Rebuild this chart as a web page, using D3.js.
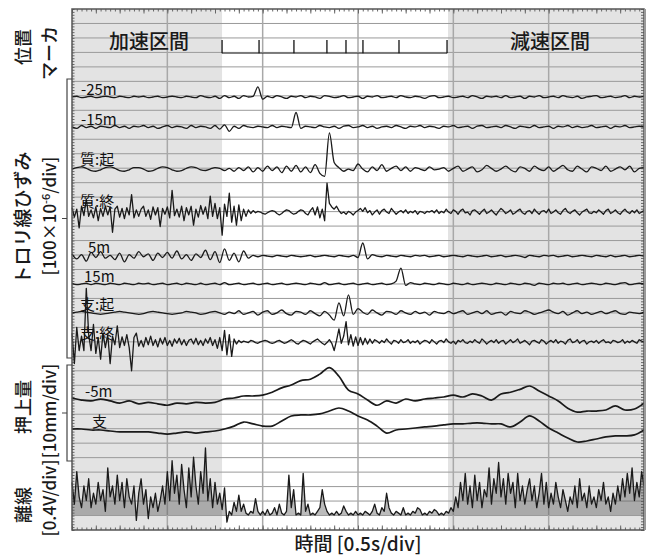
<!DOCTYPE html>
<html>
<head>
<meta charset="utf-8">
<script src="https://d3js.org/d3.v7.min.js"></script>
<style>
  body { margin: 0; background: #fff; }
  text { font-family: "Noto Sans CJK JP", "Noto Sans", sans-serif; fill: #1a1a1a; font-weight: 500; }
  text.lbl { font-weight: normal; fill: #111; }
</style>
</head>
<body>
<svg class="chart" width="652" height="555"></svg>
<script>
// time span of the record [s], 0.5 s/div
const timeSpan = [0, 3];
const accelEnd = 0.787;     // end of accelerating section
const decelStart = 1.972;   // start of decelerating section
const markerTimes = [0.787, 0.981, 1.164, 1.337, 1.437, 1.526, 1.715, 1.967];

// strain traces [x10^-6], sampled every 0.025 s
const strainM25 = [0,5,-5,0,5,-5,0,5,0,-5,
  5,0,-5,5,0,5,-5,0,5,-5, 0,5,0,-5,5,0,-5,10,0,-5,
  5,-10,10,-5,5,-10,10,0,5,70, -15,5,-5,10,0,-10,5,0,10,-5,
  5,0,-10,10,5,-5,0,10,-5,0, 5,-10,5,0,10,-5,0,5,-5,10,
  0,-5,5,0,-10,5,10,-5,0,5, -5,0,5,-5,10,0,-10,5,0,5,
  -5,10,-5,0,5,-10,5,0,10,-5, 0,5,-5,10,0,-5,5,-10,0,5,
  10,-5,0,5,-5,0,10,-5,5,0, 5];
const strainM15 = [0,-10,10,-5,5,-10,5,0,-5,10,
  -5,5,-10,5,0,10,-5,5,-10,0, 10,-5,5,0,-10,10,-5,5,0,-10,
  10,-15,15,-30,5,-10,10,0,-5,5, 0,-5,10,-5,5,0,-5,100,-10,5,
  0,-5,10,0,-5,5,-10,5,10,-5, 0,10,-5,5,-10,0,5,-5,10,0,
  -10,5,0,10,-5,5,0,-10,5,0, 10,-5,0,5,-10,5,10,-5,0,5,
  -5,10,0,-10,5,0,-5,10,-5,0, 5,-10,5,0,10,-5,5,-5,0,10,
  -5,0,5,-10,5,0,10,-5,0,5, 0];
const strainShitsuKi = [0,10,15,5,-10,-15,-5,10,15,5,
  -10,-15,-5,10,10,0,-15,-10,5,15, 10,-5,-15,-10,5,15,10,-5,-10,0,
  10,5,-10,5,-15,10,-10,15,-20,10, -15,20,-10,15,-25,20,-15,25,-20,15,
  -25,30,-30,-50,250,45,10,-15,0,-10, 35,0,-20,15,-10,30,-15,5,20,-10,
  15,-15,10,0,-10,15,-5,0,10,-15, 5,20,-15,0,15,-20,-5,25,5,-15,
  0,20,-5,-20,15,5,-15,20,0,-10, 15,-15,5,25,-5,-15,20,0,-20,15,
  5,-10,20,-15,0,15,-5,20,-20,5, 10];
const strain5m = [15,-20,10,-35,25,-10,30,-15,5,-25,
  20,-40,10,-15,30,-5,15,-30,20,-10, 25,-15,35,-20,10,-30,15,-10,40,-25,
  30,-45,50,-30,20,-40,35,-15,5,-5, 5,0,-5,5,0,-5,5,0,-5,0,
  5,-5,0,5,0,-5,5,0,-5,5, -10,90,-20,10,0,-5,5,0,-5,5,
  0,-5,5,0,5,-5,0,5,-5,0, 5,0,-5,5,0,-5,0,5,-5,0,
  5,-5,0,5,0,-10,5,0,-5,5, 0,5,-5,0,5,-5,0,5,0,-5,
  5,0,-5,5,-5,0,5,-5,0,5, 0];
const strain15m = [5,-5,0,5,-5,5,0,-5,5,0,
  -5,5,0,-5,5,0,5,-5,0,5, -5,0,5,-5,5,0,-5,5,-5,0,
  5,-5,10,-5,0,5,-5,0,5,-5, 0,5,-5,0,5,-5,0,5,0,-5,
  5,0,-5,10,-5,0,5,-5,0,5, -5,0,5,-5,0,5,-5,0,20,110,
  -10,10,0,-5,5,0,-5,5,0,-5, 5,0,-5,5,-5,0,5,0,-5,5,
  0,-5,5,0,-5,5,0,-10,5,0, -5,5,0,5,-5,0,5,-5,0,5,
  0,-5,5,0,-5,5,10,-5,0,5, 0];
const strainShiKi = [0,5,10,5,0,-5,-10,-5,0,5,
  10,5,0,-5,-10,-5,5,10,5,0, -5,-10,-5,0,10,5,0,-10,-5,5,
  10,0,-10,5,-5,15,-10,0,10,-15, 5,15,-10,0,20,-5,-15,10,5,-10,
  15,-5,-20,10,-15,-50,70,-20,125,-10, 30,5,-10,20,0,-15,10,5,-10,15,
  0,-10,10,-5,5,-15,10,0,-5,10, -5,5,15,-10,0,10,-5,15,-10,0,
  5,-15,10,0,-5,15,5,-10,0,10, 20,5,-5,10,-15,0,15,-5,5,-10,
  0,10,-5,5,15,-5,-10,5,0,-5, 5];

// strain traces [x10^-6], sampled every 0.0125 s
const strainShitsuShu = [30,-35,20,-110,40,-25,90,-30,15,-40,
  35,-60,25,-30,40,-20,35,-140,20,40, -35,25,-45,30,-20,120,-40,15,-30,20,
  40,-30,15,-50,35,-20,30,-100,25,-15, 35,-40,150,-25,20,-35,40,-60,30,-20,
  40,-90,20,-35,45,-15,35,-45,110,-30, 60,-45,30,-160,55,-30,130,-70,40,-90,
  50,-60,20,-30,15,-10,10,-5,5,0, -10,-15,-5,5,10,5,-10,-20,-10,5,
  15,10,-5,-15,-10,5,15,10,-10,-20, 10,30,-20,35,-40,20,-60,200,60,35,
  20,40,10,-10,0,-15,5,-5,-20,0, 10,25,5,30,-5,10,-20,0,15,-15,
  10,20,0,-10,25,5,-15,0,10,-5, 15,-10,5,-5,10,-15,5,0,-10,5,
  0,10,-5,15,-10,5,-5,20,0,-10, 15,5,-15,10,20,-5,0,-20,10,15,
  0,-15,5,20,-10,0,15,-5,-20,5, 25,10,-10,0,15,-15,-5,10,20,-5,
  -15,5,10,-10,20,0,-15,5,10,-5, 20,-10,0,15,-5,-15,10,25,0,-10,
  5,15,-5,-20,0,10,20,-5,-10,5, -5,15,0,-15,10,20,-10,0,15,-5,
  -15,5,20,0,-10,10,-5,15,-10,0, 10];
const strainShiShu = [60,-150,100,-60,40,-60,370,50,-60,120,
  -80,30,-120,60,-40,50,-150,40,-20,110, -40,35,-25,50,-40,-200,30,60,-30,10,
  -35,30,-20,40,-25,15,-35,25,-15,30, -25,10,-30,20,-10,25,-20,15,-25,10,
  20,-15,25,-20,10,-25,20,-10,30,-25, 15,-45,30,-60,80,-90,50,-100,20,-15,
  10,-5,5,0,-5,10,5,-5,-10,0, 5,10,5,-5,-10,-5,5,10,0,-10,
  -5,5,15,5,-10,-15,0,10,5,-5, -15,0,10,20,5,-10,-20,-5,15,-10,
  -60,10,90,-10,40,140,-20,50,-30,35, -25,30,-20,25,-15,20,-10,15,5,-10,
  10,-5,20,0,-15,10,5,-10,15,-5, 0,15,-10,5,-5,10,-15,0,10,5,
  -10,15,0,-15,5,10,-5,20,0,-10, 5,-15,10,0,15,-5,-10,5,-5,15,
  0,-10,20,5,-15,0,10,-5,15,-10, 5,10,-15,0,15,-5,5,20,-10,0,
  10,-5,-20,5,10,0,-10,15,5,-15, 0,10,-5,15,-10,5,0,-15,10,20,
  -5,0,15,-10,5,10,-15,0,5,-5, 10,-10,5,15,-5,0,-10,10,5,-5,
  0,15,-10,5,-5,10,0,-10,15,5, 0];

// uplift [mm], sampled every 0.05 s
const uplift5m = [0,-1.4,-2,-0.7,-2,-3.5,-2,-4,-3,-4,
  -5,-3.5,-4,-3,-3.5,-3,-0.7,0,1.4,1.4, 2,4,7,9,12,13,16.5,21,15,5.5,
  2.8,-1.4,-5,-2,-3.5,-0.7,-2,-0.7,0,0.7, 2,0.7,2.8,1.4,-1.4,2.8,4,6,8.3,4.8,
  1.4,-2,-7,-9.7,-9,-9,-8.3,-5.5,-8.3,-7.6, -3.5];
const upliftShi = [0,0,-0.7,-0.7,-1.4,-2,-2,-2,-2,-2.8,
  -3.5,-2.8,-2,-2.8,-2,-1.4,0,2,4.8,3.5, 2,2,5.5,9,9.7,9.7,10.4,12.4,14.5,12.4,
  9,6.2,2,-2.8,-0.7,0,0.7,1.4,2,2.8, 3.5,3.5,4.1,4.1,3.5,3.5,1.4,4.8,9,5.5,
  0.7,-2.8,-6.2,-9,-8.3,-6.9,-5.5,-4.8,-4.8,-4.1, -0.7];

// contact loss [V], sampled every 0.0125 s
const contactLoss = [0.9,0.3,1.2,0.5,0.2,0.8,0.4,1.0,0.2,0.6,
  0.3,0.9,0.4,0.7,0.1,1.3,0.5,0.8,0.3,1.1, 0.4,0.9,0.2,1.0,0.5,0.3,0.8,-0.15,0.6,1.0,
  0.3,0.7,-0.1,0.5,0.2,0.6,0.1,0.4,0.8,0.3, 1.2,0.4,1.5,0.6,1.1,0.3,1.4,0.7,0.2,1.3,
  0.5,1.6,0.8,0.3,1.2,0.6,1.85,0.4,1.0,0.2, 0.9,0.3,0.6,0.15,0.75,-0.2,0.1,0,0.35,0.1,
  0.55,0.1,0.3,0.05,0,0.1,0.05,0.45,0.1,0, 0.1,0,0.15,0,0.05,0.2,0,0.3,0.05,0,
  0.1,1.1,0.2,0.7,0,0.05,0,1.15,0.1,0.3, 0,0.05,0,0.1,0.2,0.7,0.3,0.1,0,0.05,
  0,0.1,0,0.05,0.25,0.1,0,0.05,0,0.1, 0,0.05,0,0.1,0.05,0,0.1,0.3,0.05,0,
  0.2,0.1,0.6,0.2,0.05,0,0.1,0.05,0,0.2, 0,0.05,0,0.1,0.05,0.2,0.15,0,0.05,0,
  0.1,0.05,0.15,0.1,0,0.05,0,0.1,0.05,0.2, 0.1,0.5,0.2,0.9,0.4,1.15,0.3,0.8,0.2,1.1,
  0.4,0.9,0.2,0.7,0.5,1.3,0.3,1.0,0.6,1.45, 0.5,1.0,0.3,1.15,0.6,0.9,0.2,1.15,0.4,0.8,
  0.3,0.7,1.0,0.4,0.8,0.2,0.6,1.15,0.3,0.9, 0.2,0.6,0.3,0.9,0.5,0.2,0.7,0.4,0.1,0.5,
  0.3,0.8,0.2,1.0,0.4,0.6,0.2,0.8,0.3,0.5, 0.2,0.7,0.4,0.9,0.3,0.5,0.1,0.6,0.3,0.8,
  0.4,1.0,0.5,1.15,0.6,1.3,0.4,0.9,0.5,1.2, 0.8];

// traces: zero line (div from top), units per div, label
const traces = [
  {name: '-25m', values: strainM25, zero: 6.08, perDiv: 100, lx: 81, ly: 95, curve: 'mono'},
  {name: '-15m', values: strainM15, zero: 8.15, perDiv: 100, lx: 81, ly: 125, curve: 'mono'},
  {name: '質:起', values: strainShitsuKi, zero: 11.06, perDiv: 100, lx: 80, ly: 165, curve: 'mono'},
  {name: '質:終', values: strainShitsuShu, zero: 14.03, perDiv: 100, lx: 80, ly: 207},
  {name: '5m', values: strain5m, zero: 17.07, perDiv: 100, lx: 88, ly: 253, curve: 'mono'},
  {name: '15m', values: strain15m, zero: 19.0, perDiv: 100, lx: 84, ly: 282, curve: 'mono'},
  {name: '支:起', values: strainShiKi, zero: 21.0, perDiv: 100, lx: 80, ly: 310, curve: 'mono'},
  {name: '支:終', values: strainShiShu, zero: 23.0, perDiv: 100, lx: 80, ly: 339},
  {name: '-5m', values: uplift5m, zero: 26.88, perDiv: 10, lx: 85, ly: 397, curve: 'smooth'},
  {name: '支', values: upliftShi, zero: 29.02, perDiv: 10, lx: 92, ly: 427, curve: 'smooth'},
  {name: '', values: contactLoss, zero: 34.96, perDiv: 0.4, fill: true}
];

const xs = d3.scaleLinear().domain(timeSpan).range([72, 644]);
const ys = d3.scaleLinear().domain([0, 36]).range([9, 530]);
const svg = d3.select('.chart');

// section shading
svg.append('rect').attr('x', xs(0)).attr('y', ys(0))
  .attr('width', xs(accelEnd) - xs(0)).attr('height', ys(36) - ys(0)).attr('fill', '#e3e3e3');
svg.append('rect').attr('x', xs(decelStart)).attr('y', ys(0))
  .attr('width', xs(3) - xs(decelStart)).attr('height', ys(36) - ys(0)).attr('fill', '#e3e3e3');

// grid
svg.append('g').selectAll('line').data(d3.range(1, 36)).join('line')
  .attr('x1', xs(0)).attr('x2', xs(3)).attr('y1', d => ys(d)).attr('y2', d => ys(d))
  .attr('stroke', '#9a9a9a').attr('stroke-width', 1);
svg.append('g').selectAll('line').data(d3.range(0.5, 3, 0.5)).join('line')
  .attr('x1', d => xs(d)).attr('x2', d => xs(d)).attr('y1', ys(0)).attr('y2', ys(36))
  .attr('stroke', '#a8a8a8').attr('stroke-width', 1.5);

// ruler ticks on the frame
const noLabel = g => { g.select('.domain').remove(); g.selectAll('text').remove(); g.selectAll('line').attr('stroke', '#666'); };
const minorX = d3.range(0, 121).map(i => i * 0.025), midX = d3.range(0, 25).map(i => i * 0.125);
const minorY = d3.range(0, 181).map(i => i * 0.2);
svg.append('g').attr('transform', `translate(0,${ys(0)})`).call(d3.axisBottom(xs).tickValues(minorX).tickSize(2.5)).call(noLabel);
svg.append('g').attr('transform', `translate(0,${ys(0)})`).call(d3.axisBottom(xs).tickValues(midX).tickSize(4.5)).call(noLabel);
svg.append('g').attr('transform', `translate(0,${ys(36)})`).call(d3.axisTop(xs).tickValues(minorX).tickSize(2.5)).call(noLabel);
svg.append('g').attr('transform', `translate(0,${ys(36)})`).call(d3.axisTop(xs).tickValues(midX).tickSize(4.5)).call(noLabel);
svg.append('g').attr('transform', `translate(${xs(0)},0)`).call(d3.axisRight(ys).tickValues(minorY).tickSize(2.5)).call(noLabel);
svg.append('g').attr('transform', `translate(${xs(3)},0)`).call(d3.axisLeft(ys).tickValues(minorY).tickSize(3)).call(noLabel);

// position markers
const markerZero = 3.05;
svg.append('line').attr('x1', xs(markerTimes[0])).attr('x2', xs(markerTimes[markerTimes.length - 1]))
  .attr('y1', ys(markerZero)).attr('y2', ys(markerZero)).attr('stroke', '#333').attr('stroke-width', 1);
svg.append('g').selectAll('line').data(markerTimes).join('line')
  .attr('x1', d => xs(d)).attr('x2', d => xs(d)).attr('y1', ys(markerZero)).attr('y2', ys(markerZero - 0.9))
  .attr('stroke', '#111').attr('stroke-width', 1.3);

// traces
traces.forEach(tr => {
  const n = tr.values.length;
  const tx = (d, i) => xs(i * (timeSpan[1] - timeSpan[0]) / (n - 1));
  const line = d3.line().x(tx).y(d => ys(tr.zero - d / tr.perDiv));
  if (tr.curve === 'smooth') line.curve(d3.curveCatmullRom);
  if (tr.curve === 'mono') line.curve(d3.curveMonotoneX);
  if (tr.fill) {
    const area = d3.area().x(tx).y0(ys(tr.zero)).y1(d => ys(tr.zero - d / tr.perDiv));
    svg.append('path').datum(tr.values).attr('fill', '#555').attr('fill-opacity', 0.4).attr('d', area);
  }
  svg.append('path').datum(tr.values)
    .attr('fill', 'none').attr('stroke', '#1a1a1a')
    .attr('stroke-width', tr.curve === 'smooth' ? 1.7 : 1.3)
    .attr('stroke-linejoin', 'round')
    .attr('d', line);
  if (tr.name) {
    svg.append('text').attr('class', 'lbl').attr('x', tr.lx).attr('y', tr.ly).style('font-size', '15px').text(tr.name);
  }
});

// frame
svg.append('rect').attr('x', xs(0)).attr('y', ys(0)).attr('width', xs(3) - xs(0)).attr('height', ys(36) - ys(0))
  .attr('fill', 'none').attr('stroke', '#555').attr('stroke-width', 1.5);
svg.append('line').attr('x1', xs(3) + 1).attr('x2', xs(3) + 1).attr('y1', ys(0)).attr('y2', ys(36))
  .attr('stroke', '#999').attr('stroke-width', 2);

// section titles
svg.append('text').attr('x', 149).attr('y', 49).attr('text-anchor', 'middle').style('font-size', '20px').text('加速区間');
svg.append('text').attr('x', 550).attr('y', 49).attr('text-anchor', 'middle').style('font-size', '20px').text('減速区間');

// brackets on the left
const brackets = [[79, 358], [365, 461]];
brackets.forEach(b => {
  const m = (b[0] + b[1]) / 2;
  svg.append('path').attr('d', `M72,${b[0]}H67V${b[1]}H72M67,${m}H62`)
    .attr('fill', 'none').attr('stroke', '#444').attr('stroke-width', 1.2);
});

// vertical titles
const vTitle = (x, y, s, fs) => svg.append('text')
  .attr('transform', `translate(${x},${y}) rotate(-90)`)
  .attr('text-anchor', 'middle').style('font-size', (fs || 17) + 'px').text(s);
vTitle(30, 47, '位置', 18);
vTitle(56, 53, 'マーカ', 18);
vTitle(30, 218, 'トロリ線ひずみ', 19);
const st = svg.append('text').attr('transform', 'translate(56,216) rotate(-90)')
  .attr('text-anchor', 'middle').style('font-size', '17px');
st.append('tspan').text('[100×10');
st.append('tspan').attr('dy', -6).style('font-size', '11px').text('-6');
st.append('tspan').attr('dy', 6).text('/div]');
vTitle(30, 407, '押上量', 18);
vTitle(56, 411, '[10mm/div]');
vTitle(30, 505, '離線', 18);
vTitle(56, 498, '[0.4V/div]');

// time axis title
svg.append('text').attr('x', 358).attr('y', 551).attr('text-anchor', 'middle').style('font-size', '19px').text('時間 [0.5s/div]');
</script>
</body>
</html>
